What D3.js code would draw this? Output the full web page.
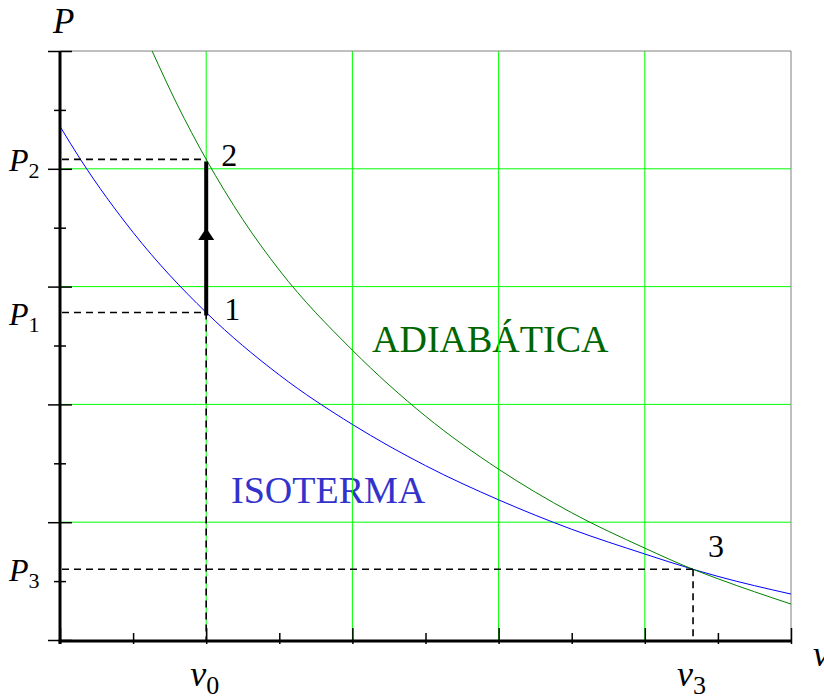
<!DOCTYPE html>
<html>
<head>
<meta charset="utf-8">
<script src="https://cdn.jsdelivr.net/npm/d3@7"></script>
<style>
  html, body { margin: 0; padding: 0; background: #ffffff; }
  svg { display: block; }
</style>
</head>
<body>
<svg id="chart" width="824" height="698"></svg>
<script>
// ---------------- DATA ----------------
const vMajorTicks = [0, 1, 2, 3, 4, 5];
const vMinorTicks = [0.5, 1.5, 2.5, 3.5, 4.5];
const pMajorTicks = [0, 1, 2, 3, 4, 5];
const pMinorTicks = [0.5, 1.5, 2.5, 3.5, 4.5];

// Isotherm (blue)
const isoV = [0, 0.14, 0.5, 1, 1.5, 2, 2.5, 3, 3.5, 4, 4.33, 4.5, 5];
const isoP = [4.36, 4.08, 3.46, 2.78, 2.25, 1.83, 1.48, 1.19, 0.94, 0.73, 0.60, 0.54, 0.39];

// Adiabatic (green)
const adiV = [0.63, 0.8, 1, 1.25, 1.5, 2, 2.5, 3, 3.5, 4, 4.33, 4.5, 5];
const adiP = [5.0, 4.55, 4.08, 3.57, 3.14, 2.46, 1.90, 1.45, 1.08, 0.78, 0.60, 0.52, 0.305];

// States
const stateNames = ["1", "2", "3"];
const stateV = [1, 1, 4.33];
const stateP = [2.78, 4.08, 0.60];

// Axis labels
const pLabels = [{ base: "P", sub: "1", p: 2.78 }, { base: "P", sub: "2", p: 4.08 }, { base: "P", sub: "3", p: 0.60 }];
const vLabels = [{ base: "v", sub: "0", v: 1 }, { base: "v", sub: "3", v: 4.33 }];

// ---------------- LAYOUT ----------------
const svg = d3.select("#chart");
const x = d3.scaleLinear().domain([0, 5]).range([60, 791]);
const y = d3.scaleLinear().domain([0, 5]).range([640, 51]);
const FONT = "Liberation Serif";

// ---------------- TEXT ----------------
function txt(xp, yp, size) {
  return svg.append("text").attr("x", xp).attr("y", yp)
    .attr("font-size", size).attr("font-family", FONT);
}
txt(372, 352, 38).attr("fill", "#006600").text("ADIABÁTICA");
txt(231, 503, 38).attr("fill", "#3333cc").text("ISOTERMA");

txt(53, 33, 35).attr("font-style", "italic").text("P");
txt(813, 666, 36).attr("font-style", "italic").text("v");

pLabels.forEach(d => {
  const t = txt(9, y(d.p) + 12, 32);
  t.append("tspan").attr("font-style", "italic").text(d.base);
  t.append("tspan").attr("font-size", 22).attr("dy", 7).text(d.sub);
});

vLabels.forEach(d => {
  const t = txt(x(d.v) - 16, 686, 36);
  t.append("tspan").attr("font-style", "italic").text(d.base);
  t.append("tspan").attr("font-size", 26).attr("dy", 8).text(d.sub);
});

const stateLabelPos = [[18, 7], [15, 7], [15, -12]];
stateNames.forEach((n, i) => {
  txt(x(stateV[i]) + stateLabelPos[i][0], y(stateP[i]) + stateLabelPos[i][1], 32).text(n);
});

// ---------------- MARKS ----------------
const grid = svg.append("g");
grid.selectAll("line.gv").data(vMajorTicks.filter(d => d > 0 && d < 5)).join("line")
  .attr("x1", d => x(d)).attr("x2", d => x(d)).attr("y1", y(5)).attr("y2", y(0))
  .attr("stroke", "#00ff00").attr("stroke-width", 1);
grid.selectAll("line.gh").data(pMajorTicks.filter(d => d > 0 && d < 5)).join("line")
  .attr("y1", d => y(d)).attr("y2", d => y(d)).attr("x1", x(0)).attr("x2", x(5))
  .attr("stroke", "#00ff00").attr("stroke-width", 1);

svg.append("line").attr("x1", x(0)).attr("x2", x(5)).attr("y1", y(5)).attr("y2", y(5))
  .attr("stroke", "#808080").attr("stroke-width", 1);
svg.append("line").attr("x1", x(5)).attr("x2", x(5)).attr("y1", y(5)).attr("y2", y(0))
  .attr("stroke", "#808080").attr("stroke-width", 1);

const line = d3.line().x(d => x(d[0])).y(d => y(d[1])).curve(d3.curveMonotoneX);
svg.append("path").datum(isoV.map((v, i) => [v, isoP[i]]))
  .attr("d", line).attr("fill", "none").attr("stroke", "#0000ff").attr("stroke-width", 1);
svg.append("path").datum(adiV.map((v, i) => [v, adiP[i]]))
  .attr("d", line).attr("fill", "none").attr("stroke", "#008000").attr("stroke-width", 1);

const dash = svg.append("g").attr("stroke", "#000").attr("stroke-width", 1.6)
  .attr("stroke-dasharray", "7,5").attr("fill", "none");
[0, 1, 2].forEach(i => {
  dash.append("line").attr("x1", x(0) + 2).attr("x2", x(stateV[i]))
    .attr("y1", y(stateP[i])).attr("y2", y(stateP[i]));
});
[0, 2].forEach(i => {
  dash.append("line").attr("x1", x(stateV[i])).attr("x2", x(stateV[i]))
    .attr("y1", y(stateP[i])).attr("y2", y(0));
});

const xa = x(stateV[0]);
svg.append("line").attr("x1", xa).attr("x2", xa)
  .attr("y1", y(stateP[0]) + 3).attr("y2", y(stateP[1]) + 2)
  .attr("stroke", "#000").attr("stroke-width", 4);
const ymid = (y(stateP[0]) + y(stateP[1])) / 2;
svg.append("path")
  .attr("d", `M${xa},${ymid - 8} L${xa - 8},${ymid + 4} L${xa + 8},${ymid + 4} Z`)
  .attr("fill", "#000");

function cleanAxis(g) {
  g.attr("font-family", null).attr("font-size", null).attr("text-anchor", null);
  g.select(".domain").remove();
  g.selectAll(".tick text").remove();
}
const yAxisMajor = d3.axisLeft(y).tickValues(pMajorTicks).tickSize(12).tickFormat("");
const yAxisMinor = d3.axisLeft(y).tickValues(pMinorTicks).tickSize(6).tickFormat("");
const xAxisMajor = d3.axisBottom(x).tickValues(vMajorTicks).tickSize(4).tickFormat("");
const xAxisMinor = d3.axisBottom(x).tickValues(vMinorTicks).tickSize(4).tickFormat("");

const gy = svg.append("g").attr("transform", `translate(${x(0)},0)`).call(yAxisMajor).call(cleanAxis);
gy.selectAll(".tick line").attr("x1", 12).attr("stroke-width", 1.5);
const gy2 = svg.append("g").attr("transform", `translate(${x(0)},0)`).call(yAxisMinor).call(cleanAxis);
gy2.selectAll(".tick line").attr("x1", 6).attr("stroke-width", 1.5);
const gx = svg.append("g").attr("transform", `translate(0,${y(0)})`).call(xAxisMajor).call(cleanAxis);
gx.selectAll(".tick line").attr("y1", -12).attr("stroke-width", 1.5);
const gx2 = svg.append("g").attr("transform", `translate(0,${y(0)})`).call(xAxisMinor).call(cleanAxis);
gx2.selectAll(".tick line").attr("y1", -7).attr("stroke-width", 1.5);

svg.append("line").attr("x1", x(0)).attr("x2", x(0)).attr("y1", y(5)).attr("y2", y(0) + 4)
  .attr("stroke", "#000").attr("stroke-width", 3);
svg.append("line").attr("x1", x(0) - 1.5).attr("x2", x(5)).attr("y1", y(0) + 1).attr("y2", y(0) + 1)
  .attr("stroke", "#000").attr("stroke-width", 3);
</script>
</body>
</html>
